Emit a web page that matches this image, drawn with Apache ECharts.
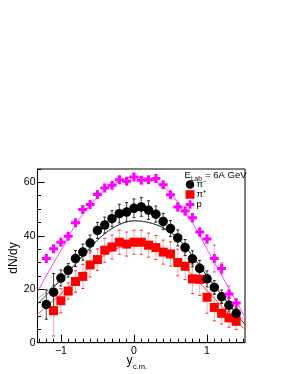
<!DOCTYPE html>
<html>
<head>
<meta charset="utf-8">
<script src="https://cdn.jsdelivr.net/npm/echarts@6/dist/echarts.min.js"></script>
<style>
html,body{margin:0;padding:0;background:#fff;}
#c{width:289px;height:374px;}
</style>
</head>
<body>
<div id="c"></div>
<script>
// ---- data ----
const xPiMinus = [-1.2,-1.1,-1.0,-0.9,-0.8,-0.7,-0.6,-0.5,-0.4,-0.3,-0.2,-0.1,0.0,0.1,0.2,0.3,0.4,0.5,0.6,0.7,0.8,0.9,1.0,1.1,1.2,1.3,1.4];
const yPiMinus = [14.3,18.9,24.2,27.1,31.5,33.9,37.3,42.0,44.0,46.4,48.3,48.9,50.3,50.8,49.6,48.1,45.4,42.7,39.2,35.6,31.4,27.8,23.9,20.7,17.2,14.0,11.0];
const ePiMinus = [5.5,7.0,3.0,2.5,3.0,3.0,3.0,3.0,3.0,3.0,3.5,3.5,3.5,3.5,3.5,3.0,3.0,3.0,3.0,3.0,3.0,3.0,3.0,2.5,2.5,2.5,2.0];

const xPiPlus = [-1.1,-1.0,-0.9,-0.8,-0.7,-0.6,-0.5,-0.4,-0.3,-0.2,-0.1,0.0,0.1,0.2,0.3,0.4,0.5,0.6,0.7,0.8,0.9,1.0,1.1,1.2,1.3,1.4];
const yPiPlus = [12.0,15.7,19.3,22.9,24.8,29.1,31.1,34.6,35.8,37.6,36.9,37.6,37.6,36.5,35.6,33.9,33.2,30.0,28.6,23.9,23.7,17.0,13.2,11.0,9.3,8.0];
const ePiPlus = [9.5,4.5,3.0,4.0,4.5,4.5,4.0,4.5,4.5,4.5,4.5,4.5,4.5,4.5,4.5,4.5,4.5,5.0,5.0,5.5,6.0,6.0,5.0,4.0,3.5,3.0];

const xProton = [-1.2,-1.1,-1.0,-0.9,-0.8,-0.7,-0.6,-0.5,-0.4,-0.3,-0.2,-0.1,0.0,0.1,0.2,0.3,0.4,0.5,0.6,0.7,0.8,0.9,1.0,1.1,1.2,1.3,1.4];
const yProton = [31.5,35.2,37.6,39.8,44.9,49.8,51.7,55.5,57.9,58.9,61.0,60.4,62.0,60.8,61.0,61.4,59.1,55.4,50.8,49.3,46.8,41.4,38.8,31.5,27.8,18.2,14.9];
const eProton = [1.0,1.0,1.0,1.0,1.0,1.0,1.0,1.0,1.0,1.0,1.0,1.0,1.0,1.0,1.0,1.0,1.0,1.0,1.5,1.5,1.5,1.5,1.5,5.0,2.0,3.0,1.5];

// fit curves
const curveX = [-1.32,-1.2,-1.0,-0.8,-0.6,-0.4,-0.2,0.0,0.2,0.4,0.6,0.8,1.0,1.2,1.4,1.52];
const fitPiMinus  = [14.5,17.8,23.5,29.5,35.5,40.8,44.2,45.6,45.0,43.0,39.0,32.5,25.0,17.8,10.8,6.8];
const fitPiMinus2 = [16.5,19.0,23.8,29.5,35.5,40.8,44.2,45.6,45.0,43.0,39.0,32.5,25.0,18.0,11.5,8.0];
const fitPiPlus   = [10.6,13.5,18.3,23.2,28.5,32.8,35.6,36.8,36.5,34.5,30.8,25.2,19.5,13.7,8.0,5.0];
const fitProton   = [19.0,25.0,34.5,44.0,51.5,57.0,60.5,62.0,61.5,58.5,52.5,44.8,35.0,25.2,15.4,9.7];

// axes
const xMin = -1.32, xMax = 1.52;
const yMin = 0, yMax = 65;
const xMajor = [-1, 0, 1];
const xTickLabels = ['\u22121', '0', '1'];
const xMinor = [-1.3,-1.2,-1.1,-0.9,-0.8,-0.7,-0.6,-0.5,-0.4,-0.3,-0.2,-0.1,0.1,0.2,0.3,0.4,0.5,0.6,0.7,0.8,0.9,1.1,1.2,1.3,1.4,1.5];
const yMajor = [0, 20, 40, 60];
const yTickLabels = ['0', '20', '40', '60'];
const yMinor = [5,10,15,25,30,35,45,50,55,65];

const legendNames = ['\u03c0\u207b', '\u03c0\u207a', 'p'];
const energyLabel = ['E', 'Lab', ' = 6A GeV'];
const xTitle = ['y', 'c.m.'];
const yTitle = 'dN/dy';

const FONT = 'Liberation Sans, Arial, Helvetica, sans-serif';
const plusPath = 'path://M3,0H6V3H9V6H6V9H3V6H0V3H3Z';

function zip(xs, ys, es) { return xs.map((x, i) => es ? [x, ys[i], es[i]] : [x, ys[i]]); }

function errSeries(xs, ys, es, barColor, capColor) {
  return {
    type: 'custom',
    z: 2,
    clip: true,
    silent: true,
    data: zip(xs, ys, es),
    renderItem: function (params, api) {
      const x = api.value(0), y = api.value(1), e = api.value(2);
      const top = api.coord([x, Math.min(yMax, y + e)]);
      const bot = api.coord([x, Math.max(yMin, y - e)]);
      const cw = 1.5;
      return {
        type: 'group',
        children: [
          { type: 'line', shape: { x1: top[0], y1: top[1], x2: bot[0], y2: bot[1] }, style: { stroke: barColor, lineWidth: 1 } },
          { type: 'line', shape: { x1: top[0] - cw, y1: top[1], x2: top[0] + cw, y2: top[1] }, style: { stroke: capColor, lineWidth: 1 } },
          { type: 'line', shape: { x1: bot[0] - cw, y1: bot[1], x2: bot[0] + cw, y2: bot[1] }, style: { stroke: capColor, lineWidth: 1 } }
        ]
      };
    }
  };
}

function lineSeries(ys, color, w) {
  return {
    type: 'line', data: zip(curveX, ys), smooth: 0.35, showSymbol: false, silent: true,
    z: 1, lineStyle: { color: color, width: w }, clip: true
  };
}

const chart = echarts.init(document.getElementById('c'), null, { renderer: 'canvas' });
chart.setOption({
  animation: false,
  backgroundColor: '#fff',
  grid: { left: 37.5, right: 44, top: 169, bottom: 31.3, show: true, borderColor: '#000', borderWidth: 1, backgroundColor: 'transparent' },
  xAxis: [
    {
      type: 'value', min: xMin, max: xMax, position: 'bottom',
      axisLine: { show: true, onZero: false, lineStyle: { color: '#000', width: 1 } },
      axisTick: { show: true, inside: true, length: 8, customValues: xMajor, lineStyle: { color: '#000' } },
      axisLabel: { show: true, customValues: xMajor, margin: 3, fontSize: 10.5, fontFamily: FONT, color: '#000',
        formatter: v => xTickLabels[xMajor.indexOf(Math.round(v))] },
      splitLine: { show: false }
    },
    {
      type: 'value', min: xMin, max: xMax, position: 'bottom',
      axisLine: { show: false, onZero: false },
      axisTick: { show: true, inside: true, length: 4, customValues: xMinor, lineStyle: { color: '#000' } },
      axisLabel: { show: false },
      splitLine: { show: false }
    }
  ],
  yAxis: [
    {
      type: 'value', min: yMin, max: yMax, position: 'left',
      axisLine: { show: true, onZero: false, lineStyle: { color: '#000', width: 1 } },
      axisTick: { show: true, inside: true, length: 7, customValues: yMajor, lineStyle: { color: '#000' } },
      axisLabel: { show: true, customValues: yMajor, margin: 2, fontSize: 10.5, fontFamily: FONT, color: '#000',
        formatter: v => yTickLabels[yMajor.indexOf(Math.round(v))] },
      splitLine: { show: false }
    },
    {
      type: 'value', min: yMin, max: yMax, position: 'left',
      axisLine: { show: false, onZero: false },
      axisTick: { show: true, inside: true, length: 3.5, customValues: yMinor, lineStyle: { color: '#000' } },
      axisLabel: { show: false },
      splitLine: { show: false }
    }
  ],
  legend: {
    orient: 'vertical', left: 185.5, top: 179.5, padding: 0, itemGap: 0,
    itemWidth: 9, itemHeight: 8.5,
    textStyle: { fontSize: 9.5, fontFamily: FONT, color: '#000', lineHeight: 8.5, padding: [0, 0, 0, -3] },
    data: [
      { name: legendNames[0], icon: 'circle' },
      { name: legendNames[1], icon: 'rect' },
      { name: legendNames[2], icon: plusPath }
    ],
    selectedMode: false
  },
  graphic: [
    { type: 'text', left: 184.5, top: 170, z: 10, style: { text: energyLabel[0], font: '9.5px ' + FONT, fill: '#000' } },
    { type: 'text', left: 191, top: 175.5, z: 10, style: { text: energyLabel[1], font: '6.5px ' + FONT, fill: '#000' } },
    { type: 'text', left: 202.5, top: 170, z: 10, style: { text: energyLabel[2], font: '9.5px ' + FONT, fill: '#000' } },
    { type: 'text', x: 13.5, y: 258, rotation: Math.PI / 2, z: 10,
      style: { text: yTitle, font: '12px ' + FONT, fill: '#000', align: 'center', verticalAlign: 'middle' } },
    { type: 'text', left: 126.5, top: 354.5, z: 10, style: { text: xTitle[0], font: '12px ' + FONT, fill: '#000' } },
    { type: 'text', left: 133, top: 362.5, z: 10, style: { text: xTitle[1], font: '7.5px ' + FONT, fill: '#000' } }
  ],
  series: [
    lineSeries(fitPiMinus2, '#8a8a8a', 0.8),
    lineSeries(fitPiMinus, '#333333', 1),
    lineSeries(fitPiPlus, '#ff3a3a', 1),
    lineSeries(fitProton, '#ff40ff', 1),
    errSeries(xPiPlus, yPiPlus, ePiPlus, 'rgba(255,60,60,0.45)', 'rgba(255,0,0,0.85)'),
    errSeries(xPiMinus, yPiMinus, ePiMinus, '#444', '#222'),
    errSeries(xProton, yProton, eProton, 'rgba(255,80,255,0.6)', 'rgba(255,0,255,0.9)'),
    { name: legendNames[1], type: 'scatter', data: zip(xPiPlus, yPiPlus), symbol: 'rect', symbolSize: 9, z: 3,
      itemStyle: { color: '#ff0000', opacity: 1 }, silent: true },
    { name: legendNames[0], type: 'scatter', data: zip(xPiMinus, yPiMinus), symbol: 'circle', symbolSize: 9.5, z: 4,
      itemStyle: { color: '#000000', opacity: 1 }, silent: true },
    { name: legendNames[2], type: 'scatter', data: zip(xProton, yProton), symbol: plusPath, symbolSize: 9, z: 5,
      itemStyle: { color: '#ff00ff', opacity: 1 }, silent: true }
  ]
});
</script>
</body>
</html>
